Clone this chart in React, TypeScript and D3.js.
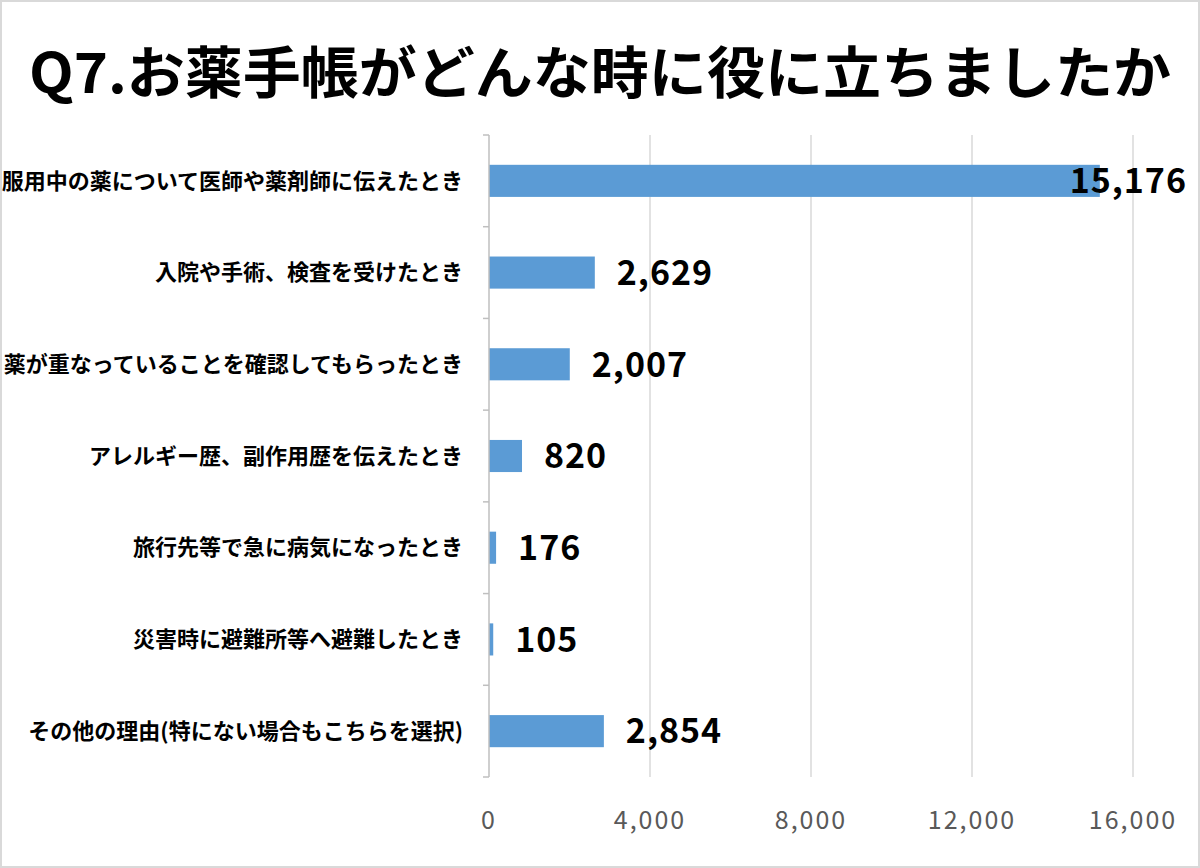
import React from "react";
import { scaleBand, scaleLinear, format } from "d3";

const categories = [
  "服用中の薬について医師や薬剤師に伝えたとき",
  "入院や手術、検査を受けたとき",
  "薬が重なっていることを確認してもらったとき",
  "アレルギー歴、副作用歴を伝えたとき",
  "旅行先等で急に病気になったとき",
  "災害時に避難所等へ避難したとき",
  "その他の理由(特にない場合もこちらを選択)",
];
const counts = [15176, 2629, 2007, 820, 176, 105, 2854];
const xTicks = [0, 4000, 8000, 12000, 16000];

const W = 1200;
const H = 868;
const margin = { top: 135, right: 67, bottom: 91, left: 489 };
const font = "'Noto Sans CJK JP', 'Noto Sans', sans-serif";

export default function App() {
  const innerW = W - margin.left - margin.right;
  const innerH = H - margin.top - margin.bottom;

  const x = scaleLinear().domain([0, 16000]).range([0, innerW]);
  const y = scaleBand<string>()
    .domain(categories)
    .range([0, innerH])
    .paddingInner(0.65)
    .paddingOuter(0.325);
  const fmt = format(",");
  const step = y.step();

  return (
    <svg
      width={W}
      height={H}
      style={{ position: "absolute", left: 0, top: 0, background: "#fff" }}
    >
      <rect x={1} y={1} width={W - 2} height={H - 2} fill="#fff" stroke="#d9d9d9" strokeWidth={2} />
      <text
        x={W / 2}
        y={93}
        textAnchor="middle"
        fontFamily={font}
        fontWeight={700}
        fontSize={56}
        textLength={1142}
        lengthAdjust="spacingAndGlyphs"
        fill="#000"
      >
        Q7.お薬手帳がどんな時に役に立ちましたか
      </text>
      <g transform={`translate(${margin.left},${margin.top})`}>
        {xTicks.slice(1).map((t) => (
          <line key={`g-${t}`} x1={x(t)} x2={x(t)} y1={0} y2={innerH} stroke="#d9d9d9" strokeWidth={1.5} />
        ))}
        {categories.map((c, i) => {
          const v = counts[i];
          const yc = y(c)! + y.bandwidth() / 2;
          const end = x(v);
          const label = fmt(v);
          const estW = label.length * 20;
          const overflow = margin.left + end + 22 + estW > W - 12;
          return (
            <g key={c}>
              <rect x={0} y={y(c)} width={end} height={y.bandwidth()} fill="#5b9bd5" />
              <text
                x={-26}
                y={yc}
                dy="0.35em"
                textAnchor="end"
                fontFamily={font}
                fontWeight={700}
                fontSize={22}
                fill="#000"
              >
                {c}
              </text>
              <text
                x={overflow ? innerW + 54 : end + 22}
                y={yc}
                dy="0.36em"
                textAnchor={overflow ? "end" : "start"}
                fontFamily={font}
                fontWeight={700}
                fontSize={34}
                letterSpacing={1}
                fill="#000"
              >
                {label}
              </text>
            </g>
          );
        })}
        <line x1={0} x2={0} y1={0} y2={innerH} stroke="#bfbfbf" strokeWidth={1.5} />
        {categories.concat([""]).map((_, i) => (
          <line key={`t-${i}`} x1={-6} x2={0} y1={i * step} y2={i * step} stroke="#bfbfbf" strokeWidth={1.5} />
        ))}
        {xTicks.map((t) => (
          <text
            key={`x-${t}`}
            x={x(t)}
            y={innerH + 43}
            dy="0.35em"
            textAnchor="middle"
            fontFamily={font}
            fontSize={25}
            letterSpacing={2}
            fill="#595959"
          >
            {fmt(t)}
          </text>
        ))}
      </g>
    </svg>
  );
}
